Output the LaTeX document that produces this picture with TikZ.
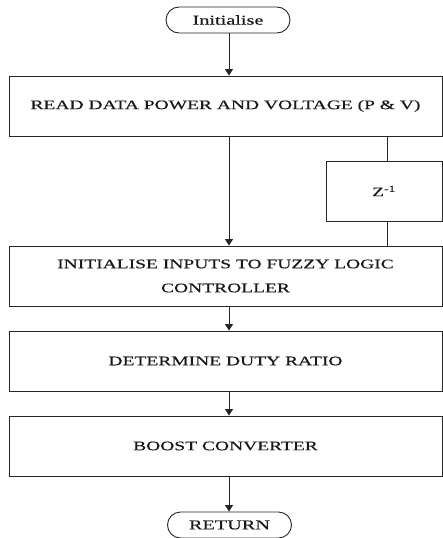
\documentclass[tikz,border=0pt]{standalone}
\usepackage{fontspec}
\setmainfont{Liberation Serif}[FakeStretch=1.5,FakeBold=0.4]
\usetikzlibrary{arrows.meta}
\begin{document}
\begin{tikzpicture}[x=1pt,y=-1pt,
  line/.style={draw=black!85,line width=0.9pt},
  arr/.style={line,-{Triangle[width=8pt,length=6.5pt]}},
  procbox/.style={line,fill=white,rectangle,minimum width=433pt,minimum height=60pt,inner sep=0pt,align=center,font=\fontsize{13}{24}\selectfont,text=black!90},
  termbox/.style={line,fill=white,rectangle,rounded corners=13pt,minimum width=124pt,minimum height=26pt,inner sep=0pt,font=\fontsize{13.5}{15}\selectfont,text=black!90},
  delaybox/.style={line,fill=white,rectangle,minimum width=116pt,minimum height=60pt,inner sep=0pt,font=\fontsize{13}{15}\selectfont,text=black!90}]
\useasboundingbox[fill=white] (0,0) rectangle (443,538);
\node[termbox] (init) at (228,20) {Initialise};
\node[procbox] (b1) at (225.5,106) {READ DATA POWER AND VOLTAGE (P \& V)};
\node[delaybox] (z) at (384,191) {Z\textsuperscript{-1}};
\node[procbox] (b2) at (225.5,276) {INITIALISE INPUTS TO FUZZY LOGIC\\CONTROLLER};
\node[procbox] (b3) at (225.5,361) {DETERMINE DUTY RATIO};
\node[procbox] (b4) at (225.5,446) {BOOST CONVERTER};
\node[termbox] (ret) at (229.5,525) {RETURN};
\coordinate (ax) at (229,0);
\draw[arr] (init.south -| ax) -- (b1.north -| ax);
\draw[arr] (b1.south -| ax) -- (b2.north -| ax);
\draw[arr] (b2.south -| ax) -- (b3.north -| ax);
\draw[arr] (b3.south -| ax) -- (b4.north -| ax);
\draw[arr] (b4.south -| ax) -- (ret.north -| ax);
\coordinate (zx) at (387,0);
\draw[line] (b1.south -| zx) -- (z.north -| zx);
\draw[line] (z.south -| zx) -- (b2.north -| zx);
\end{tikzpicture}
\end{document}
